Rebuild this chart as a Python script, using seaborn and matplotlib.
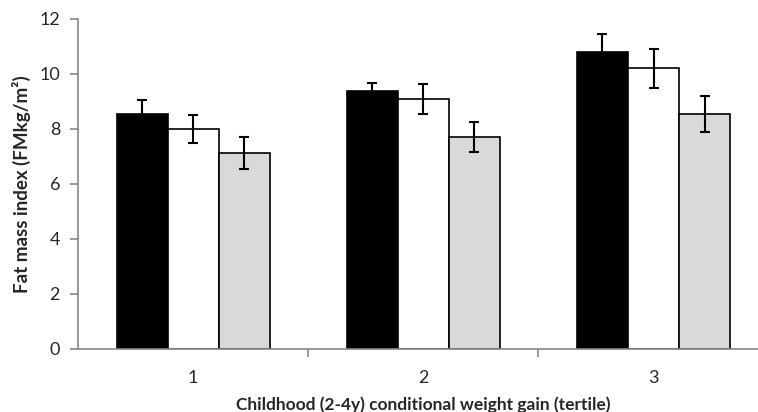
import numpy as np
import pandas as pd
import matplotlib
matplotlib.use("Agg")
import matplotlib.pyplot as plt
import seaborn as sns

# values
tertiles = ["1", "2", "3"]
series = ["A", "B", "C"]
fmi_a = [8.55, 9.39, 10.81]
fmi_b = [8.00, 9.09, 10.20]
fmi_c = [7.12, 7.70, 8.55]
err_a = [0.50, 0.27, 0.66]
err_b = [0.51, 0.55, 0.71]
err_c = [0.59, 0.54, 0.66]
colors = ["#000000", "#ffffff", "#d9d9d9"]

df = pd.DataFrame({
    "tertile": tertiles * 3,
    "series": np.repeat(series, 3),
    "fmi": fmi_a + fmi_b + fmi_c,
})
errs = [err_a, err_b, err_c]

sns.set_style("white")
plt.rcParams["font.family"] = ["Lato", "DejaVu Sans"]

fig = plt.figure(figsize=(7.58, 4.12), dpi=100)
ax = fig.add_axes([0.103, 0.153, 0.911, 0.801])

sns.barplot(data=df, x="tertile", y="fmi", hue="series", palette=colors,
            width=0.665, errorbar=None, edgecolor="black", linewidth=1.2,
            legend=False, ax=ax)

# error bars at the bar centres
for cont, e in zip(ax.containers, errs):
    xs = [p.get_x() + p.get_width() / 2 for p in cont.patches]
    hs = [p.get_height() for p in cont.patches]
    ax.errorbar(xs, hs, yerr=e, fmt="none", ecolor="black",
                elinewidth=1.5, capsize=3.3, capthick=1.5, zorder=5)

ax.set_xlim(-0.5, 2.5)
ax.set_ylim(0, 12)
ax.set_yticks(range(0, 13, 2))
ax.set_xticks([0.5, 1.5], minor=True)

for s in ["top", "right"]:
    ax.spines[s].set_visible(False)
for s in ["left", "bottom"]:
    ax.spines[s].set_color("#888888")
    ax.spines[s].set_linewidth(1.2)

ax.tick_params(axis="y", which="major", left=True, length=6, width=1.2,
               color="#888888", labelsize=13, pad=7)
ax.tick_params(axis="x", which="major", bottom=False, labelsize=13, pad=12)
ax.tick_params(axis="x", which="minor", bottom=True, length=6, width=1.2,
               color="#888888")

ax.set_xlabel("Childhood (2-4y) conditional weight gain (tertile)",
              fontsize=12.5, fontweight="bold", labelpad=7)
ax.set_ylabel("Fat mass index (FMkg/m²)", fontsize=13.5, fontweight="bold",
              labelpad=6)

fig.savefig("out.png", dpi=100)
